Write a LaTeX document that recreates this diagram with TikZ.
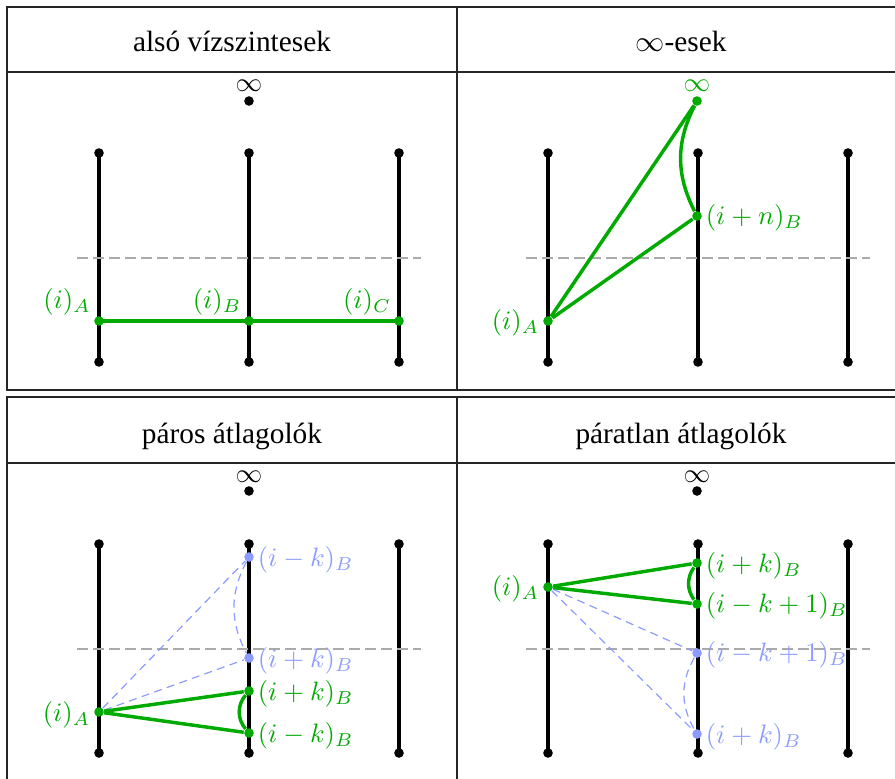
\documentclass[tikz,border=0pt]{standalone}
\usepackage{fontspec}
\newfontfamily\hfont{Liberation Serif}
\definecolor{gr}{RGB}{0,170,0}
\definecolor{lb}{RGB}{140,155,255}
\definecolor{dg}{RGB}{170,170,170}
\newcommand\mypoles[3]{%
  \foreach \c/\xx in {A/99,B/249,C/399}{
    \node[bdot] (#1t\c) at (\xx+#2,153+#3) {};
    \node[bdot] (#1b\c) at (\xx+#2,362+#3) {};
    \draw[pole] (#1t\c.center) -- (#1b\c.center);
  }
  \coordinate (#1sl) at (77+#2,258+#3);
  \coordinate (#1sr) at (421+#2,258+#3);
  \draw[sepline] (#1sl) -- (#1sr);
}
\begin{document}
\begin{tikzpicture}[x=0.375pt,y=-0.375pt,
  frame/.style={draw=black!85, line width=0.6pt},
  pole/.style={line width=1.3pt},
  bdot/.style={circle, fill=black, inner sep=0pt, minimum size=3.6pt},
  gdot/.style={circle, fill=gr, inner sep=0pt, minimum size=3.6pt},
  ldot/.style={circle, fill=lb, inner sep=0pt, minimum size=3.6pt},
  sepline/.style={draw=dg, line width=1.1pt, dash pattern=on 4pt off 2pt},
  gline/.style={draw=gr, line width=1.3pt},
  lline/.style={draw=lb, line width=0.45pt, dash pattern=on 3pt off 2pt},
  head/.style={font=\hfont\fontsize{11}{13}\selectfont, anchor=base, inner sep=0pt},
  infl/.style={inner sep=0pt},
  rlab/.style={anchor=west, inner sep=2pt},
  llab/.style={anchor=east, inner sep=2pt},
]
\useasboundingbox (0,0) rectangle (895,778);
% frames
\draw[frame] (7,7) rectangle (907,390);
\draw[frame] (7,72) -- (907,72);
\draw[frame] (457,7) -- (457,390);
\draw[frame] (7,790) -- (7,397) -- (907,397) -- (907,790);
\draw[frame] (7,463) -- (907,463);
\draw[frame] (457,397) -- (457,790);
% headers
\node[head] (h1) at (232,52) {alsó vízszintesek};
\node[head] (h2) at (681,52) {$\infty$-esek};
\node[head] (h3) at (232,443) {páros átlagolók};
\node[head] (h4) at (681,443) {páratlan átlagolók};

% ---------- panel 1
\mypoles{p}{0}{0}
\node[bdot] (inf1) at (249,101) {};
\node[infl] (inf1l) at (249,86) {$\infty$};
\node[gdot] (a1) at (99,321) {};
\node[gdot] (b1) at (249,321) {};
\node[gdot] (c1) at (399,321) {};
\draw[gline] (a1.center) -- (b1.center) -- (c1.center);
\node[text=gr] (la1) at (67,302) {$(i)_A$};
\node[text=gr] (lb1) at (217,302) {$(i)_B$};
\node[text=gr] (lc1) at (367,302) {$(i)_C$};

% ---------- panel 2
\mypoles{q}{449}{0}
\node[gdot] (inf2) at (697,101) {};
\node[infl, text=gr] (inf2l) at (697,86) {$\infty$};
\node[gdot] (n2) at (697,216) {};
\node[gdot] (a2) at (548,321) {};
\draw[gline] (a2) -- (inf2);
\draw[gline] (a2) -- (n2);
\draw[gline] (inf2) to[bend right=27] (n2);
\node[rlab, text=gr] (ln2) at (700,218) {$(i+n)_B$};
\node[llab, text=gr] (la2) at (545,323) {$(i)_A$};

% ---------- panel 3
\mypoles{r}{0}{391}
\node[bdot] (inf3) at (249,491) {};
\node[infl] (inf3l) at (249,477) {$\infty$};
\node[ldot] (u3) at (249,557) {};
\node[ldot] (v3) at (249,658) {};
\node[gdot] (g3) at (249,691) {};
\node[gdot] (h3p) at (249,733) {};
\node[gdot] (a3) at (99,712) {};
\draw[lline] (a3) -- (u3);
\draw[lline] (a3) -- (v3);
\draw[lline] (u3) to[bend right=28] (v3);
\draw[gline] (a3) -- (g3);
\draw[gline] (a3) -- (h3p);
\draw[gline] (g3) to[bend right=40] (h3p);
\node[rlab, text=lb] (lu3) at (252,560) {$(i-k)_B$};
\node[rlab, text=lb] (lv3) at (252,661) {$(i+k)_B$};
\node[rlab, text=gr] (lg3) at (252,694) {$(i+k)_B$};
\node[rlab, text=gr] (lh3) at (252,736) {$(i-k)_B$};
\node[llab, text=gr] (la3) at (96,715) {$(i)_A$};

% ---------- panel 4
\mypoles{s}{449}{391}
\node[bdot] (inf4) at (697,491) {};
\node[infl] (inf4l) at (697,477) {$\infty$};
\node[gdot] (g4) at (697,563) {};
\node[gdot] (h4p) at (697,604) {};
\node[ldot] (u4) at (697,653) {};
\node[ldot] (v4) at (697,734) {};
\node[gdot] (a4) at (548,587) {};
\draw[lline] (a4) -- (u4);
\draw[lline] (a4) -- (v4);
\draw[lline] (u4) to[bend right=30] (v4);
\draw[gline] (a4) -- (g4);
\draw[gline] (a4) -- (h4p);
\draw[gline] (g4) to[bend right=35] (h4p);
\node[rlab, text=gr] (lg4) at (700,566) {$(i+k)_B$};
\node[rlab, text=gr] (lh4) at (700,606) {$(i-k+1)_B$};
\node[rlab, text=lb] (lu4) at (700,655) {$(i-k+1)_B$};
\node[rlab, text=lb] (lv4) at (700,737) {$(i+k)_B$};
\node[llab, text=gr] (la4) at (545,589) {$(i)_A$};
\end{tikzpicture}
\end{document}
